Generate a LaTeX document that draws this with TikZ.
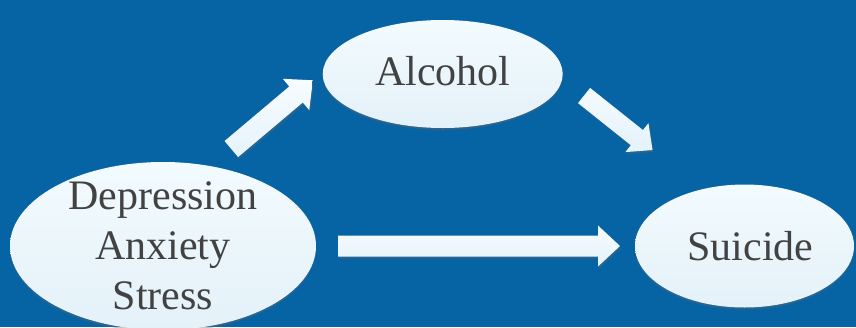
\documentclass[tikz,border=0pt]{standalone}
\usepackage{fontspec}
\setmainfont{Liberation Serif}
\usetikzlibrary{shapes.geometric,calc,shadows}
\definecolor{bgblue}{RGB}{6,100,164}
\definecolor{ovaltop}{RGB}{242,251,255}
\definecolor{ovalbot}{RGB}{228,241,248}
\definecolor{arrtop}{RGB}{246,252,255}
\definecolor{arrbot}{RGB}{228,242,250}
\definecolor{txtgray}{RGB}{66,66,66}
\tikzset{
  oval/.style={ellipse, inner sep=0pt, outer sep=0pt, top color=ovaltop, bottom color=ovalbot,
    drop shadow={shadow xshift=0pt, shadow yshift=-2pt, opacity=0.4, fill=black!60}},
  ovaltext/.style={font=\fontsize{42}{50}\selectfont, text=txtgray, align=center, inner sep=0pt},
  blockarrow/.style n args={5}{top color=arrtop, bottom color=arrbot,
    drop shadow={shadow xshift=1pt, shadow yshift=-2pt, opacity=0.35, fill=black!60},
    to path={let \p1=($(\tikztostart)!#1!(\tikztotarget)$),
                 \p2=($(\tikztotarget)!#2!(\tikztostart)$),
                 \n1={atan2(\y2-\y1,\x2-\x1)},
                 \n2={veclen(\x2-\x1,\y2-\y1)} in
      [shift={(\p1)}, rotate=\n1]
      (0,-#3) -- ({\n2-#5},-#3) -- ({\n2-#5},-#4) -- (\n2,0)
      -- ({\n2-#5},#4) -- ({\n2-#5},#3) -- (0,#3) -- cycle}}
}
\begin{document}
\begin{tikzpicture}[x=1pt,y=-1pt]
\fill[bgblue] (0,0) rectangle (856,327);
\useasboundingbox (0,0) rectangle (856,327);
\node[oval, minimum width=306pt, minimum height=168pt,
  label={[ovaltext]center:{Depression\\Anxiety\\Stress}}] (dep) at (163,246) {};
\node[oval, minimum width=240pt, minimum height=108pt,
  label={[ovaltext, yshift=2.5pt]center:Alcohol}] (alc) at (442.7,74) {};
\node[oval, minimum width=219pt, minimum height=123pt,
  label={[ovaltext, xshift=6pt]center:Suicide}] (sui) at (744.5,246) {};
\path[blockarrow={26.7pt}{12.8pt}{10.5}{20.5}{22}] (dep.59) to (alc.179);
\path[blockarrow={27.8pt}{63pt}{9.7}{18.5}{20}] (alc.-2) to (sui.127);
\path[blockarrow={22pt}{15pt}{10.5}{20.5}{22}] (dep.east) to (sui.west);
\end{tikzpicture}
\end{document}
